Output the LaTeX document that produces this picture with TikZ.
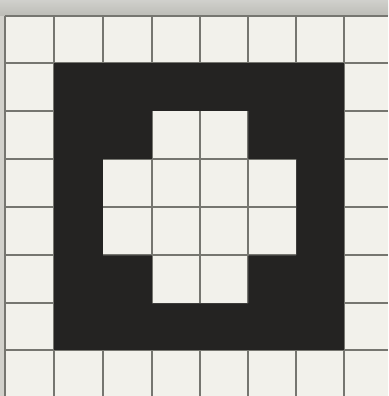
\documentclass[tikz,border=0pt]{standalone}
\usepackage{tikz}

\definecolor{paper}{RGB}{242,241,235}
\definecolor{ink}{RGB}{36,35,34}
\definecolor{rule}{RGB}{118,118,112}
\definecolor{band}{RGB}{188,188,182}

\begin{document}
\begin{tikzpicture}[x=1pt,y=-1pt,
    gridline/.style={draw=rule,line width=1.8pt},
    blackfill/.style={fill=ink},
    paperfill/.style={fill=paper}]
\useasboundingbox (0,0) rectangle (388,396);
% paper and the grey strip along the top
\fill[paperfill] (0,0) rectangle (388,396);
\shade[top color=band!70!white,bottom color=band] (0,0) rectangle (388,16);
\fill[band!60!paper] (0,16) rectangle (4,396);

% the grid
\foreach \x in {5,54,103,152,200,248,296,344}
    \draw[gridline] (\x,16) -- (\x,396);
\foreach \y in {16,63,111,159,207,255,303,350}
    \draw[gridline] (5,\y) -- (388,\y);

% black frame with the white cross inside
\fill[blackfill] (54,63) rectangle (344,350);
\begin{scope}
    \clip (152,111) rectangle (248,303) (103,159) rectangle (296,255);
    \fill[paperfill] (0,0) rectangle (388,396);
    \foreach \x in {152,200,248}
        \draw[gridline] (\x,111) -- (\x,303);
    \foreach \y in {159,207,255}
        \draw[gridline] (103,\y) -- (296,\y);
\end{scope}
\end{tikzpicture}
\end{document}
